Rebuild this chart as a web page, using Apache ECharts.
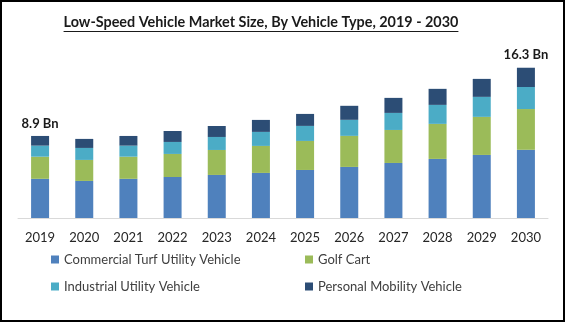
<!DOCTYPE html>
<html>
<head>
<meta charset="utf-8">
<script src="https://cdn.jsdelivr.net/npm/echarts@6/dist/echarts.min.js"></script>
<style>
  html, body { margin: 0; padding: 0; background: #fff; }
  #chart { width: 565px; height: 322px; box-sizing: border-box; border: 2px solid #000; }
</style>
</head>
<body>
<div id="chart"></div>
<script>
// Market size by vehicle type, USD billion
const years = ['2019','2020','2021','2022','2023','2024','2025','2026','2027','2028','2029','2030'];
const commercialTurf = [4.25, 4.02, 4.25, 4.45, 4.67, 4.89, 5.21, 5.54, 5.97, 6.41, 6.84, 7.40];
const golfCart       = [2.40, 2.28, 2.40, 2.50, 2.71, 2.93, 3.15, 3.37, 3.58, 3.80, 4.13, 4.42];
const industrial     = [1.20, 1.30, 1.20, 1.30, 1.41, 1.52, 1.63, 1.74, 1.85, 2.06, 2.17, 2.39];
const personal       = [1.05, 0.98, 1.05, 1.19, 1.19, 1.30, 1.30, 1.52, 1.63, 1.74, 1.95, 2.09];
const totalLabels = { 0: '8.9 Bn', 11: '16.3 Bn' };

const FONT = 'Lato, "Open Sans", sans-serif';
const titleText = 'Low-Speed Vehicle Market Size, By Vehicle Type, 2019 - 2030';
const TITLE_SIZE = 14.4;
const TITLE_CENTER = 259;

// measure title width so the underline spans the text
const ctx = document.createElement('canvas').getContext('2d');
ctx.font = 'bold ' + TITLE_SIZE + 'px ' + FONT;
const titleW = ctx.measureText(titleText).width;

const chart = echarts.init(document.getElementById('chart'), null, { renderer: 'canvas' });

const names = ['Commercial Turf Utility Vehicle', 'Golf Cart', 'Industrial Utility Vehicle', 'Personal Mobility Vehicle'];
const colors = ['#4F81BD', '#9BBB59', '#4BACC6', '#2C4D75'];
const dataSets = [commercialTurf, golfCart, industrial, personal];

const series = dataSets.map((d, i) => ({
  name: names[i],
  type: 'bar',
  stack: 'total',
  barWidth: 18,
  itemStyle: { color: colors[i] },
  data: d,
  label: i === 3 ? {
    show: true,
    position: 'top',
    distance: 6,
    fontFamily: FONT,
    fontWeight: 'bold',
    fontSize: 13,
    color: '#1a1a1a',
    formatter: p => totalLabels[p.dataIndex] || ''
  } : { show: false }
}));

const legendBase = {
  orient: 'vertical',
  icon: 'rect',
  itemWidth: 8,
  itemHeight: 8,
  itemGap: 14,
  padding: 0,
  textStyle: { fontFamily: FONT, fontSize: 13, color: '#404040' },
  selectedMode: false
};

chart.setOption({
  animation: false,
  title: {
    text: titleText,
    left: TITLE_CENTER - titleW / 2,
    top: 13,
    padding: 0,
    textStyle: { fontFamily: FONT, fontWeight: 'bold', fontSize: TITLE_SIZE, color: '#1a1a1a' }
  },
  graphic: [{
    type: 'line',
    shape: { x1: TITLE_CENTER - titleW / 2, y1: 29.5, x2: TITLE_CENTER + titleW / 2, y2: 29.5 },
    style: { stroke: '#1a1a1a', lineWidth: 1 }
  }],
  legend: [
    Object.assign({}, legendBase, { left: 49, top: 251, data: [names[0], names[2]] }),
    Object.assign({}, legendBase, { left: 303, top: 251, data: [names[1], names[3]] })
  ],
  grid: { left: 16, right: 15, top: 39, bottom: 102, containLabel: false },
  xAxis: {
    type: 'category',
    data: years,
    axisLine: { lineStyle: { color: '#d9d9d9' } },
    axisTick: { show: false },
    axisLabel: { fontFamily: FONT, fontSize: 13, color: '#262626', margin: 13 }
  },
  yAxis: {
    type: 'value',
    min: 0,
    max: 19.2,
    show: false,
    splitLine: { show: false }
  },
  series
});
</script>
</body>
</html>
